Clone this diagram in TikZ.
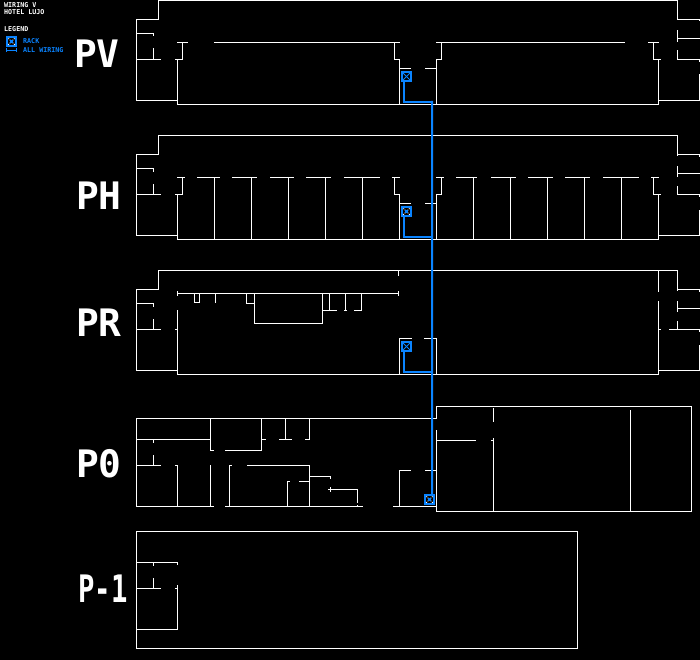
\documentclass[tikz,border=0pt]{standalone}
\usepackage{fontspec}
\setmonofont{DejaVu Sans Mono}
\usepackage{xcolor}
\usetikzlibrary{arrows.meta}
\definecolor{wireblue}{HTML}{0A84FF}
\tikzset{
  wall/.style={draw=white, line width=1bp, line cap=rect},
  wire/.style={draw=wireblue, line width=2bp},
  floorlabel/.style={text=white, inner sep=0pt, font=\ttfamily\bfseries\fontsize{38}{38}\selectfont},
  smalllabel/.style={anchor=west, inner sep=0pt, font=\ttfamily\bfseries\fontsize{6.7}{7}\selectfont},
  rack/.style={rectangle, draw=wireblue, fill=black, line width=2bp, inner sep=0pt, outer sep=0pt, minimum size=9bp,
    path picture={
      \draw[wireblue, line width=1bp] (path picture bounding box.north west) -- (path picture bounding box.south east);
      \draw[wireblue, line width=1bp] (path picture bounding box.north east) -- (path picture bounding box.south west);
    }},
  racklit/.style={rectangle, draw=wireblue, fill=black, line width=2bp, inner sep=0pt, outer sep=0pt, minimum size=9bp,
    path picture={
      \draw[white, line width=1bp, dash pattern=on 1bp off 1bp] (path picture bounding box.north west) -- (path picture bounding box.south east);
      \draw[white, line width=1bp, dash pattern=on 1bp off 1bp] (path picture bounding box.north east) -- (path picture bounding box.south west);
      \fill[wireblue] ([shift={(-1.5bp,-1.5bp)}]path picture bounding box.center) rectangle ([shift={(1.5bp,1.5bp)}]path picture bounding box.center);
    }}
}
\begin{document}
\begin{tikzpicture}[x=1bp, y=-1bp]
    \fill[black] (0,0) rectangle (700,660);
    \useasboundingbox (0,0) rectangle (700,660);

    % titoli e legenda
    \node (title1) [smalllabel, text=white] at (4,5.5) {WIRING V};
    \node (title2) [smalllabel, text=white] at (4,12) {HOTEL LUJO};
    \node (legend) [smalllabel, text=white] at (4,29.5) {LEGEND};
    \node (legrack) [racklit] at (11.5,41.5) {};
    \node (legracktext) [smalllabel, text=wireblue] at (23,41.5) {RACK};
    \node (legwiretext) [smalllabel, text=wireblue] at (23,50.5) {ALL WIRING};
    \coordinate (legwireA) at (6,50.5);
    \coordinate (legwireB) at (17,50.5);
    \draw [draw=wireblue, line width=1bp, {Bar[width=4bp,length=1bp]}-{Bar[width=4bp,length=1bp]}] (legwireA) -- (legwireB);

    % etichette dei piani
    \node (labelPV) [floorlabel] at (97,54) {PV};
    \node (labelPH) [floorlabel] at (99,196) {PH};
    \node (labelPR) [floorlabel] at (99,323) {PR};
    \node (labelP0) [floorlabel] at (99,464) {P0};
    \node (labelP1) [floorlabel, xscale=0.72] at (103,589) {P-1};

    % ali comuni PV, PH, PR
    \foreach \dy in {0,135,270} {
      \begin{scope}[shift={(0,\dy)}]
        \draw [wall] (677.5,0.5) -- (158.5,0.5) -- (158.5,19.5) -- (136.5,19.5) -- (136.5,100.5) -- (177,100.5);
        \draw [wall] (136.5,33.5) -- (153.5,33.5) -- (153.5,36);
        \draw [wall] (153.5,49) -- (153.5,59.5);
        \draw [wall] (136.5,59.5) -- (160.5,59.5);
        \draw [wall] (677.5,0.5) -- (677.5,20);
        \draw [wall] (677.5,19.5) -- (699.5,19.5) -- (699.5,21);
        \draw [wall] (677.5,31) -- (677.5,41.5);
        \draw [wall] (677.5,38.5) -- (699.5,38.5);
        \draw [wall] (677.5,51) -- (677.5,59.5) -- (699.5,59.5) -- (699.5,61.5);
        \draw [wall] (699.5,75) -- (699.5,100.5) -- (658.5,100.5);
        \draw [wall] (177.5,104.5) -- (658.5,104.5);
      \end{scope}
    }

    % scale e nucleo PV, PH
    \foreach \dy in {0,135} {
      \begin{scope}[shift={(0,\dy)}]
        \draw [wall] (175.5,59.5) -- (182.5,59.5) -- (182.5,42.5);
        \draw [wall] (177.5,60) -- (177.5,104.5);
        \draw [wall] (394.5,42.5) -- (394.5,59.5) -- (399.5,59.5) -- (399.5,104.5);
        \draw [wall] (399.5,68.5) -- (410.5,68.5);
        \draw [wall] (425.5,68.5) -- (436.5,68.5);
        \draw [wall] (441.5,42.5) -- (441.5,59.5) -- (436.5,59.5) -- (436.5,104.5);
        \draw [wall] (653.5,42.5) -- (653.5,59.5) -- (660.5,59.5);
        \draw [wall] (658.5,60) -- (658.5,104.5);
      \end{scope}
    }

    % PV
    \draw [wall] (177.5,42.5) -- (187.5,42.5);
    \draw [wall] (214.5,42.5) -- (399.5,42.5);
    \draw [wall] (436.5,42.5) -- (624.5,42.5);
    \draw [wall] (648.5,42.5) -- (658.5,42.5);

    % PH
    \foreach \a/\b in {177.5/184.5,197.5/219.5,232.5/256.5,270.5/293.5,306.5/330.5,344.5/379.5,392.5/399.5,436.5/443.5,456.5/476.5,491.5/515.5,528.5/552.5,565.5/589.5,603.5/638.5,651.5/658.5}
      \draw [wall] (\a,177.5) -- (\b,177.5);
    \foreach \x in {214.5,251.5,288.5,325.5,362.5,473.5,510.5,547.5,584.5,621.5}
      \draw [wall] (\x,177.5) -- (\x,239.5);

    % PR
    \draw [wall] (177.5,293.5) -- (398.5,293.5);
    \draw [wall] (177.5,291.5) -- (177.5,295);
    \draw [wall] (398.5,291.5) -- (398.5,295);
    \draw [wall] (398.5,270.5) -- (398.5,275);
    \draw [wall] (194.5,293.5) -- (194.5,302.5) -- (199.5,302.5) -- (199.5,293.5);
    \draw [wall] (215.5,293.5) -- (215.5,302.5);
    \draw [wall] (246.5,293.5) -- (246.5,303.5) -- (254.5,303.5);
    \draw [wall] (254.5,293.5) -- (254.5,323.5) -- (322.5,323.5) -- (322.5,293.5);
    \draw [wall] (322.5,310.5) -- (336.5,310.5);
    \draw [wall] (329.5,293.5) -- (329.5,310.5);
    \draw [wall] (345.5,293.5) -- (345.5,310.5);
    \draw [wall] (344.5,310.5) -- (346.5,310.5);
    \draw [wall] (361.5,293.5) -- (361.5,310.5) -- (354.5,310.5);
    \draw [wall] (177.5,310.5) -- (177.5,374.5);
    \draw [wall] (175.5,329.5) -- (177.5,329.5);
    \draw [wall] (399.5,374.5) -- (399.5,338.5) -- (411.5,338.5);
    \draw [wall] (424.5,338.5) -- (436.5,338.5) -- (436.5,374.5);
    \draw [wall] (658.5,270.5) -- (658.5,291);
    \draw [wall] (658.5,301) -- (658.5,374.5);
    \draw [wall] (658.5,329.5) -- (660.5,329.5);
    \draw [wall] (669.5,329.5) -- (677.5,329.5);

    % P0
    \draw [wall] (436.5,418.5) -- (136.5,418.5) -- (136.5,506.5) -- (213.5,506.5);
    \draw [wall] (225.5,506.5) -- (362.5,506.5);
    \draw [wall] (393.5,506.5) -- (436.5,506.5);
    \draw [wall] (136.5,439.5) -- (210.5,439.5);
    \draw [wall] (153.5,439.5) -- (153.5,442.5);
    \draw [wall] (153.5,455.5) -- (153.5,465.5);
    \draw [wall] (136.5,465.5) -- (160.5,465.5);
    \draw [wall] (175.5,465.5) -- (177.5,465.5) -- (177.5,506.5);
    \draw [wall] (210.5,418.5) -- (210.5,450.5) -- (213.5,450.5);
    \draw [wall] (225.5,450.5) -- (261.5,450.5) -- (261.5,418.5);
    \draw [wall] (261.5,439.5) -- (265.5,439.5);
    \draw [wall] (279.5,439.5) -- (291.5,439.5);
    \draw [wall] (285.5,418.5) -- (285.5,439.5);
    \draw [wall] (309.5,418.5) -- (309.5,439.5) -- (305.5,439.5);
    \draw [wall] (210.5,465.5) -- (210.5,506.5);
    \draw [wall] (231.5,465.5) -- (229.5,465.5) -- (229.5,506.5);
    \draw [wall] (247.5,465.5) -- (309.5,465.5) -- (309.5,506.5);
    \draw [wall] (309.5,476.5) -- (330.5,476.5) -- (330.5,478.5);
    \draw [wall] (299.5,481.5) -- (309.5,481.5);
    \draw [wall] (289,481.5) -- (287.5,481.5) -- (287.5,506.5);
    \draw [wall] (328.5,489.5) -- (357.5,489.5) -- (357.5,502.5);
    \draw [wall] (330.5,487.5) -- (330.5,491.5);
    \draw [wall] (357.5,505) -- (357.5,506.5);
    \draw [wall] (399.5,506.5) -- (399.5,470.5) -- (410.5,470.5);
    \draw [wall] (425.5,470.5) -- (436.5,470.5);

    % blocco destro P0
    \draw [wall] (436.5,418.5) -- (436.5,406.5) -- (691.5,406.5) -- (691.5,511.5) -- (436.5,511.5) -- (436.5,430.5);
    \draw [wall] (436.5,440.5) -- (475.5,440.5);
    \draw [wall] (491.5,440.5) -- (493.5,440.5);
    \draw [wall] (493.5,408.5) -- (493.5,421.5);
    \draw [wall] (493.5,438.5) -- (493.5,511.5);
    \draw [wall] (630.5,410.5) -- (630.5,511.5);

    % P-1
    \draw [wall] (136.5,531.5) rectangle (577.5,648.5);
    \draw [wall] (136.5,562.5) -- (177.5,562.5) -- (177.5,564.5);
    \draw [wall] (153.5,562.5) -- (153.5,565.5);
    \draw [wall] (153.5,578.5) -- (153.5,588.5);
    \draw [wall] (136.5,588.5) -- (160.5,588.5);
    \draw [wall] (175.5,588.5) -- (177.5,588.5);
    \draw [wall] (177.5,585.5) -- (177.5,629.5) -- (136.5,629.5);

    % rack e cablaggio
    \node (rackPV) [rack] at (406.5,76.5) {};
    \node (rackPH) [racklit] at (406.5,211.5) {};
    \node (rackPR) [rack] at (406.5,346.5) {};
    \node (rackP0) [racklit] at (429.5,499.5) {};
    \coordinate (tapPV) at (432,102);
    \coordinate (tapPH) at (432,237);
    \coordinate (tapPR) at (432,372);
    \draw [wire] ([xshift=-2.5bp]rackPV.south) |- (tapPV);
    \draw [wire] ([xshift=-2.5bp]rackPH.south) |- (tapPH);
    \draw [wire] ([xshift=-2.5bp]rackPR.south) |- (tapPR);
    \draw [wire] ([yshift=1bp]tapPV) -- ([xshift=2.5bp]rackP0.north);
\end{tikzpicture}
\end{document}
